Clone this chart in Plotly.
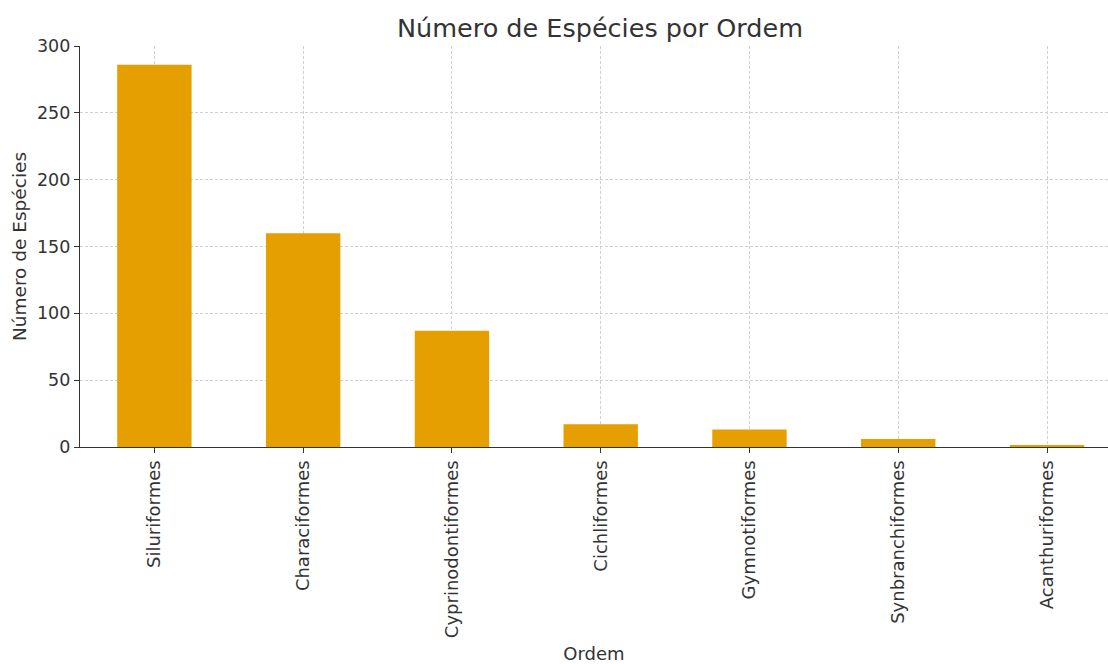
import plotly.graph_objects as go

ordens = ["Siluriformes", "Characiformes", "Cyprinodontiformes", "Cichliformes",
          "Gymnotiformes", "Synbranchiformes", "Acanthuriformes"]
especies = [286, 160, 87, 17, 13, 6, 1]
y_ticks = [0, 50, 100, 150, 200, 250, 300]

fig = go.Figure(go.Bar(x=ordens, y=especies, marker_color="#E69F00",
                       marker_line_width=0, width=0.5))

txt = "#333333"
font = "DejaVu Sans"
grid = dict(showgrid=True, gridcolor="#d0d0d0", griddash="3px,2px", gridwidth=0.8)
fig.update_layout(
    width=1108, height=664,
    margin=dict(l=80, r=0, t=46, b=217),
    plot_bgcolor="white", paper_bgcolor="white",
    font=dict(family=font, color=txt, size=18),
    title=dict(text="Número de Espécies por Ordem", x=0.5415, xanchor="center",
               xref="container",
               y=0.958, yanchor="middle", font=dict(size=25.5, color=txt)),
    showlegend=False,
)
fig.update_xaxes(
    range=[-0.5, 6.41], tickangle=-90, ticks="outside", ticklen=5, tickcolor="#333",
    showline=True, linecolor="#333", linewidth=1.3,
    layer="above traces", tickfont=dict(size=18),
    title=dict(text="Ordem", font=dict(size=18), standoff=14),
    **grid,
)
fig.update_yaxes(
    range=[0, 300], tickvals=y_ticks, ticks="outside", ticklen=5, tickcolor="#333",
    showline=True, linecolor="#333", linewidth=1.3,
    zeroline=False, layer="above traces", tickfont=dict(size=17.5),
    title=dict(text="Número de Espécies", font=dict(size=18.5), standoff=5),
    **grid,
)
fig.write_html("out.html")
